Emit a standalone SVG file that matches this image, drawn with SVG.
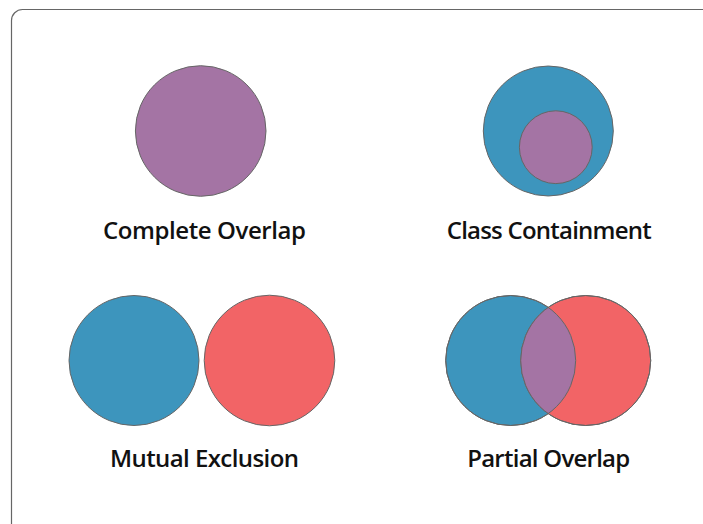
<svg xmlns="http://www.w3.org/2000/svg" width="703" height="524" viewBox="0 0 703 524">
  <style>
    .frame { fill: #ffffff; stroke: #666666; stroke-width: 1.2; }
    .c { stroke: #666666; stroke-width: 1; }
    .blue { fill: #3d95bd; }
    .red { fill: #f26466; }
    .purple { fill: #a474a4; }
    .lbl { font-family: "Open Sans", "Noto Sans", "DejaVu Sans", sans-serif; font-weight: 600; font-size: 24px; fill: #111111; text-anchor: middle; }
  </style>
  <defs>
    <clipPath id="clipBlue">
      <circle cx="510.7" cy="360.5" r="65"/>
    </clipPath>
  </defs>
  <rect width="703" height="524" fill="#ffffff"/>
  <rect class="frame" x="11.5" y="9.5" width="720" height="540" rx="11" ry="11"/>

  <g id="complete-overlap">
    <circle class="c purple" cx="200.7" cy="131" r="65.3"/>
    <text class="lbl" x="204.5" y="238.5" textLength="203" lengthAdjust="spacing">Complete Overlap</text>
  </g>

  <g id="class-containment">
    <circle class="c blue" cx="548.3" cy="131" r="65"/>
    <circle class="c purple" cx="555.8" cy="147.2" r="36.4"/>
    <text class="lbl" x="549.2" y="238.5" textLength="205" lengthAdjust="spacing">Class Containment</text>
  </g>

  <g id="mutual-exclusion">
    <circle class="c blue" cx="134" cy="360.5" r="65"/>
    <circle class="c red" cx="269.5" cy="360.5" r="65.3"/>
    <text class="lbl" x="204.5" y="467" textLength="189" lengthAdjust="spacing">Mutual Exclusion</text>
  </g>

  <g id="partial-overlap">
    <circle class="c blue" cx="510.7" cy="360.5" r="65"/>
    <circle class="c red" cx="585.7" cy="360.5" r="65"/>
    <circle class="purple" cx="585.7" cy="360.5" r="65" clip-path="url(#clipBlue)"/>
    <circle cx="585.7" cy="360.5" r="65" fill="none" stroke="#666666" stroke-width="1"/>
    <circle cx="510.7" cy="360.5" r="65" fill="none" stroke="#666666" stroke-width="1"/>
    <text class="lbl" x="548.7" y="467" textLength="163" lengthAdjust="spacing">Partial Overlap</text>
  </g>

  <g id="connectors"/>
</svg>
